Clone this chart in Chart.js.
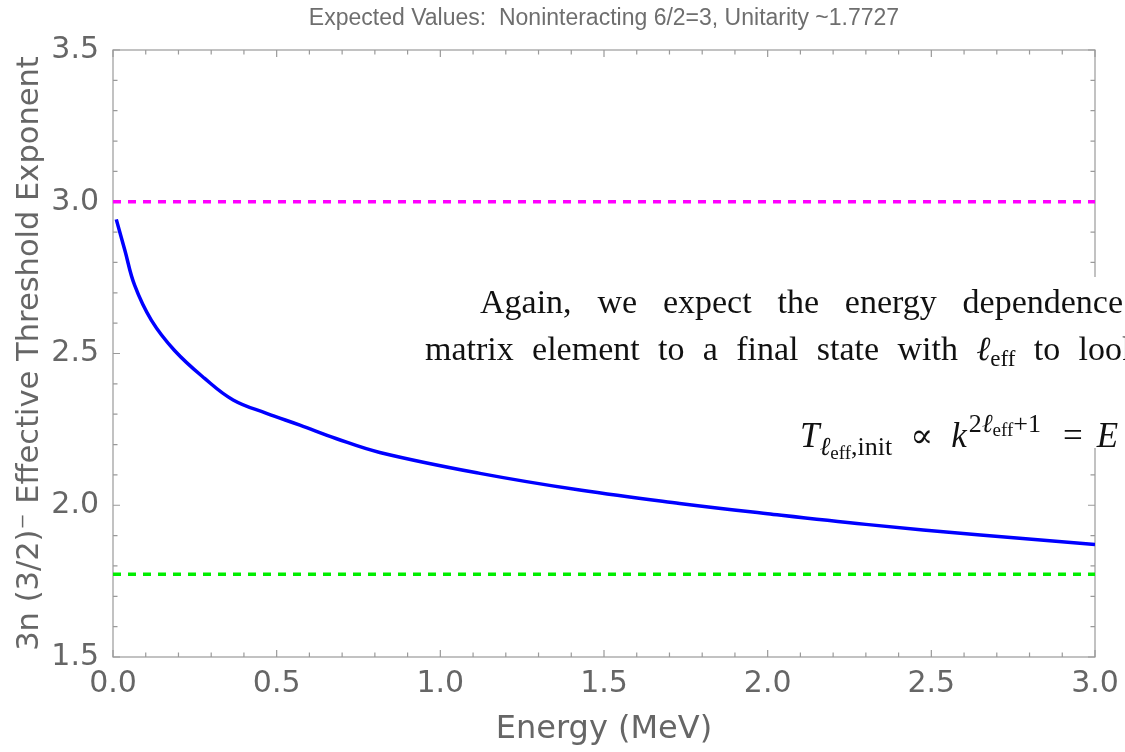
<!DOCTYPE html>
<html>
<head>
<meta charset="utf-8">
<script src="https://cdn.jsdelivr.net/npm/chart.js@4.4.1/dist/chart.umd.min.js"></script>
<style>
  html, body { margin: 0; padding: 0; background: #fff; }
  #wrap { width: 1125px; height: 752px; }
</style>
</head>
<body>
<div id="wrap"><canvas id="c" width="1125" height="752"></canvas></div>
<script>
/* ---------- data ---------- */
const energy   = [0.01, 0.036, 0.066, 0.117, 0.188, 0.28, 0.367, 0.469, 0.571, 0.681, 0.815, 1.121, 1.426, 1.731, 2.0, 2.3, 2.65, 3.0];
const exponent = [2.942, 2.841, 2.725, 2.61, 2.51, 2.418, 2.347, 2.303, 2.264, 2.22, 2.174, 2.105, 2.05, 2.006, 1.972, 1.937, 1.902, 1.871];

const levelEnergy    = [0, 3];
const nonInteracting = [3.0, 3.0];      // 6/2
const unitarity      = [1.7727, 1.7727];

const xMajor = [0, 0.5, 1.0, 1.5, 2.0, 2.5, 3.0];
const yMajor = [1.5, 2.0, 2.5, 3.0, 3.5];

const titleText  = 'Expected Values:  Noninteracting 6/2=3, Unitarity ~1.7727';
const xTitleText = 'Energy (MeV)';
const yTitleText = '3n (3/2)\u207B Effective Threshold Exponent';

/* ---------- styling ---------- */
const axisGray = '#9a9a9a';
const textGray = '#666666';
const sans  = '"DejaVu Sans", sans-serif';
const serif = '"Liberation Serif", "DejaVu Serif", serif';

const pts = (xs, ys) => xs.map((x, i) => ({ x, y: ys[i] }));

/* frame with inward major/minor ticks on all four sides */
const frameTicks = {
  id: 'frameTicks',
  beforeDatasetsDraw(chart) {
    const { ctx, chartArea: a, scales: { x, y } } = chart;
    ctx.save();
    ctx.strokeStyle = axisGray;
    ctx.lineWidth = 1.2;
    ctx.strokeRect(a.left, a.top, a.right - a.left, a.bottom - a.top);
    ctx.beginPath();
    for (let i = 0; i <= 30; i++) {
      const px = x.getPixelForValue(i / 10);
      const len = i % 5 === 0 ? 7 : 4.5;
      ctx.moveTo(px, a.bottom); ctx.lineTo(px, a.bottom - len);
      ctx.moveTo(px, a.top);    ctx.lineTo(px, a.top + len);
    }
    for (let i = 0; i <= 20; i++) {
      const py = y.getPixelForValue(1.5 + i / 10);
      const len = i % 5 === 0 ? 7 : 4.5;
      ctx.moveTo(a.left, py);  ctx.lineTo(a.left + len, py);
      ctx.moveTo(a.right, py); ctx.lineTo(a.right - len, py);
    }
    ctx.stroke();
    ctx.restore();
  }
};

/* little rich-text helper: a token is a list of runs {t, s, dy, it, gap} */
function runFont(r) { return (r.it ? 'italic ' : '') + r.s + 'px ' + serif; }
function tokenWidth(ctx, tok) {
  return tok.reduce((w, r) => { ctx.font = runFont(r); return w + ctx.measureText(r.t).width + (r.gap || 0); }, 0);
}
function drawToken(ctx, tok, x, base) {
  tok.forEach(r => {
    ctx.font = runFont(r);
    ctx.fillText(r.t, x, base + (r.dy || 0));
    x += ctx.measureText(r.t).width + (r.gap || 0);
  });
  return x;
}
function drawJustified(ctx, tokens, x0, x1, base) {
  const widths = tokens.map(t => tokenWidth(ctx, t));
  const gap = (x1 - x0 - widths.reduce((a, b) => a + b, 0)) / (tokens.length - 1);
  let x = x0;
  tokens.forEach((t, i) => { drawToken(ctx, t, x, base); x += widths[i] + gap; });
}
const word = (t, s = 34) => [{ t, s }];

/* title on top, and the text panel laid over the right side of the plot */
const overlay = {
  id: 'overlay',
  afterDraw(chart) {
    const { ctx, chartArea: a } = chart;
    ctx.save();
    ctx.fillStyle = '#6e6e6e';
    ctx.font = '23px "Liberation Sans", sans-serif';
    ctx.textAlign = 'center';
    ctx.textBaseline = 'alphabetic';
    ctx.fillText(titleText, (a.left + a.right) / 2, 25);

    ctx.fillStyle = '#ffffff';
    ctx.fillRect(415, 277, chart.width - 415, 171);

    ctx.fillStyle = '#111111';
    ctx.textAlign = 'left';
    const line1 = ['Again,', 'we', 'expect', 'the', 'energy', 'dependence'].map(w => word(w));
    drawJustified(ctx, line1, 480, 1123, 313);

    const ell = [{ t: '\u2113', s: 34, it: true }, { t: 'eff', s: 23, dy: 6 }];
    const line2 = ['matrix', 'element', 'to', 'a', 'final', 'state', 'with'].map(w => word(w))
      .concat([ell, word('to'), word('look')]);
    drawJustified(ctx, line2, 425, 1139, 360);

    const formula = [
      { t: 'T', s: 35, it: true },
      { t: '\u2113', s: 26, it: true, dy: 8 },
      { t: 'eff', s: 19, dy: 12 },
      { t: ',init', s: 26, dy: 8, gap: 18 },
      { t: '\u221D', s: 34, gap: 18 },
      { t: 'k', s: 35, it: true, gap: 2 },
      { t: '2', s: 26, dy: -15 },
      { t: '\u2113', s: 26, it: true, dy: -15 },
      { t: 'eff', s: 19, dy: -11 },
      { t: '+1', s: 26, dy: -15, gap: 22 },
      { t: '=', s: 35, gap: 14 },
      { t: 'E', s: 35, it: true }
    ];
    drawToken(ctx, formula, 800, 447);
    ctx.restore();
  }
};

new Chart(document.getElementById('c'), {
  type: 'line',
  data: {
    datasets: [
      { data: pts(energy, exponent), borderColor: '#0000ff', borderWidth: 3.5,
        pointRadius: 0, tension: 0.4, fill: false },
      { data: pts(levelEnergy, nonInteracting), borderColor: '#ff00ff', borderWidth: 3.5,
        borderDash: [8, 7], pointRadius: 0, fill: false },
      { data: pts(levelEnergy, unitarity), borderColor: '#00ee00', borderWidth: 3.5,
        borderDash: [8, 7], pointRadius: 0, fill: false }
    ]
  },
  options: {
    responsive: false,
    animation: false,
    devicePixelRatio: 1,
    layout: { padding: { top: 50, right: 30, left: 0, bottom: 0 } },
    plugins: { legend: { display: false }, tooltip: { enabled: false } },
    scales: {
      x: {
        type: 'linear', min: 0, max: 3,
        afterBuildTicks: s => { s.ticks = xMajor.map(v => ({ value: v })); },
        afterFit: s => { s.height = 95; },
        grid: { display: false }, border: { display: false },
        ticks: { color: textGray, font: { family: sans, size: 30 }, padding: 1,
                 maxRotation: 0, autoSkip: false, callback: v => v.toFixed(1) },
        title: { display: true, text: xTitleText, color: textGray,
                 font: { family: sans, size: 32 }, padding: { top: 0, bottom: 3 } }
      },
      y: {
        type: 'linear', min: 1.5, max: 3.5,
        afterBuildTicks: s => { s.ticks = yMajor.map(v => ({ value: v })); },
        afterFit: s => { s.width = 113; },
        grid: { display: false }, border: { display: false },
        ticks: { color: textGray, font: { family: sans, size: 30 }, padding: 6,
                 autoSkip: false, callback: v => v.toFixed(1) },
        title: { display: true, text: yTitleText, color: textGray,
                 font: { family: sans, size: 30.5 }, padding: { top: 12, bottom: 0 } }
      }
    }
  },
  plugins: [frameTicks, overlay]
});
</script>
</body>
</html>
